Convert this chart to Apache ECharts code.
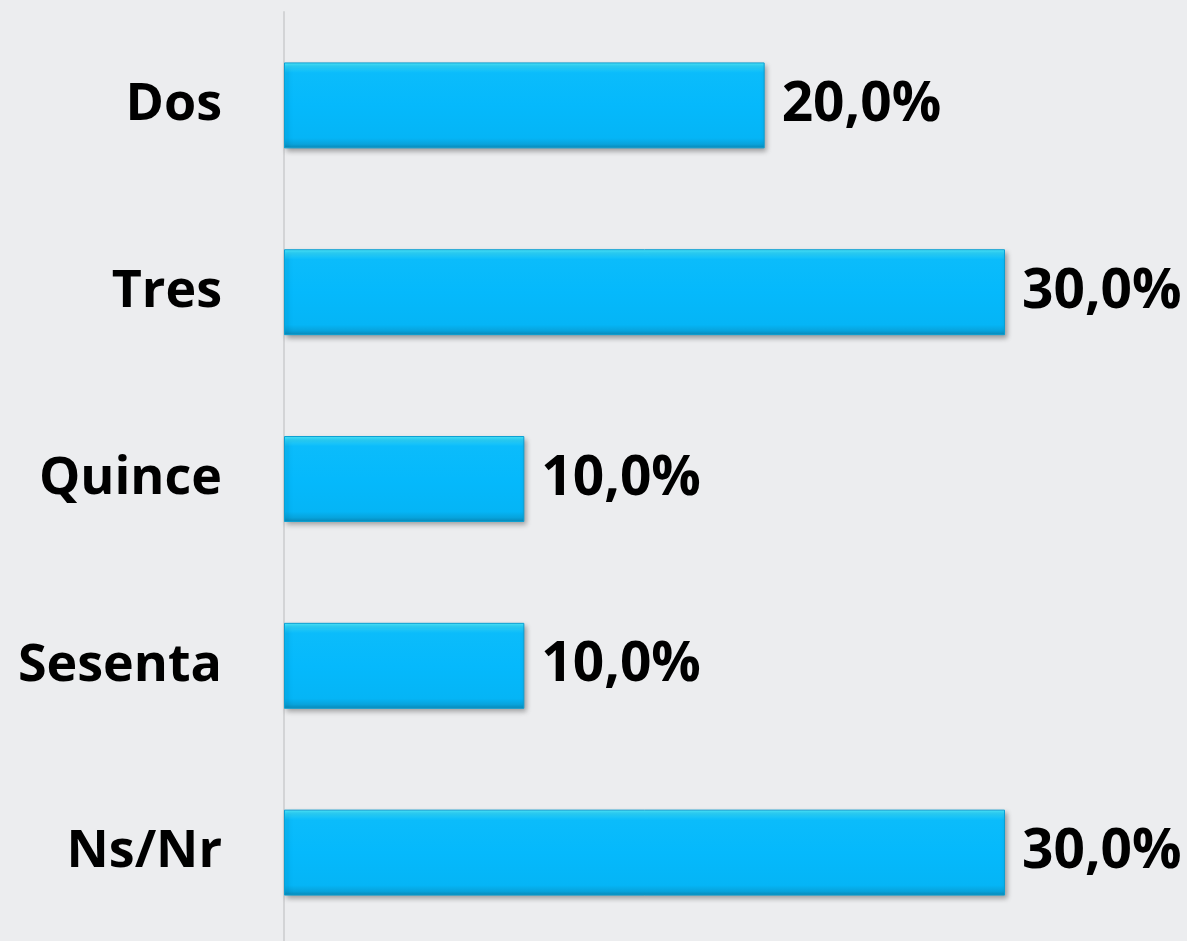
<!DOCTYPE html>
<html>
<head>
<meta charset="utf-8">
<script src="https://cdn.jsdelivr.net/npm/echarts@6/dist/echarts.min.js"></script>
<style>
html,body{margin:0;padding:0;background:#ECEDEF;}
#chart{width:1187px;height:941px;}
</style>
</head>
<body>
<div id="chart"></div>
<script>
const categories = ["Dos", "Tres", "Quince", "Sesenta", "Ns/Nr"];
const values = [20.0, 30.0, 10.0, 10.0, 30.0];

const chart = echarts.init(document.getElementById('chart'), null, {renderer: 'canvas'});
const barGradient = new echarts.graphic.LinearGradient(0, 0, 0, 1, [
  {offset: 0, color: '#52ECFF'},
  {offset: 0.04, color: '#2ED6FD'},
  {offset: 0.12, color: '#0BBCFB'},
  {offset: 0.5, color: '#05B9FC'},
  {offset: 0.88, color: '#05B5F6'},
  {offset: 0.95, color: '#07A3DC'},
  {offset: 1, color: '#0A8AB8'}
]);
chart.setOption({
  backgroundColor: '#ECEDEF',
  animation: false,
  grid: {left: 284, right: 182, top: 12, height: 934, outerBoundsMode: 'none', containLabel: false},
  xAxis: {
    type: 'value', min: 0, max: 30, show: false
  },
  yAxis: {
    type: 'category', data: categories, inverse: true,
    axisLine: {show: true, lineStyle: {color: '#D3D4D6', width: 2}},
    axisTick: {show: false},
    axisLabel: {
      margin: 62, color: '#000', fontFamily: 'Open Sans', fontWeight: 'bold', fontSize: 52
    }
  },
  series: [{
    type: 'bar',
    data: values,
    barCategoryGap: '54%',
    itemStyle: {
      color: barGradient,
      borderColor: '#0A9FD2',
      borderWidth: 1,
      shadowColor: 'rgba(0,0,0,0.35)',
      shadowBlur: 5,
      shadowOffsetX: 2,
      shadowOffsetY: 3
    },
    label: {
      show: true, position: 'right', distance: 17,
      color: '#000', fontFamily: 'Open Sans', fontWeight: 'bold', fontSize: 55,
      formatter: p => p.value.toFixed(1).replace('.', ',') + '%'
    }
  }]
});
</script>
</body>
</html>
